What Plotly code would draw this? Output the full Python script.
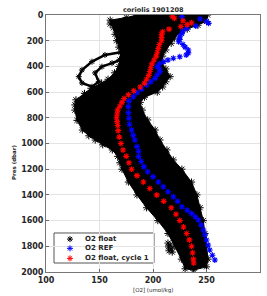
import plotly.graph_objects as go

# ---- data ----
# Envelope of the O2 float cloud (many profiles), pressure in dbar, O2 in umol/kg
env_left_p = [0, 20, 40, 70, 100, 150, 200, 250, 290, 350, 400, 450, 500, 530, 570, 610,
              660, 700, 740, 820, 895, 940, 973, 1010, 1050, 1100, 1150, 1200, 1300, 1400,
              1500, 1600, 1700, 1800, 1900, 1975]
env_left_v = [185, 175, 160, 160, 163, 164.5, 166, 168, 170, 169, 168, 164, 158, 152, 142, 136,
              128, 127, 127, 129, 134, 140, 146, 153, 162, 167, 169, 171, 177, 185,
              194, 204.5, 214, 220.5, 226.5, 230]
env_right_p = [0, 50, 80, 110, 140, 180, 220, 272, 320, 374, 420, 480, 520, 560, 600, 640,
               680, 740, 817, 895, 973, 1050, 1128, 1200, 1300, 1400, 1500, 1600, 1700, 1800,
               1900, 1960, 1985]
env_right_v = [251, 250, 242, 232, 224, 220, 217, 212, 209, 208, 212, 216, 212, 209, 204, 192,
               188, 190, 195, 202, 206.5, 213, 219, 227, 236, 241, 244, 247, 248.6, 250,
               251.5, 250, 238]

# Loop of one float profile on the left side (300-560 dbar)
loop_p = [288, 311, 363, 428, 480, 529, 558, 519, 451, 402, 374, 350, 288]
loop_v = [171, 155.1, 143, 133.6, 130.6, 133.6, 143, 149.3, 145.8, 152.3, 161.7, 169.2, 171]

# isolated float points near 1800 dbar
out_p = [1775, 1790, 1805, 1820, 1835, 1845]
out_v = [214, 216, 214.5, 217, 215, 218]

# O2 REF profile
ref_p = [13, 30, 50, 65, 85, 104, 125, 145, 170, 190, 208, 230, 250, 272, 295, 311, 325, 337,
         350, 363, 380, 402, 420, 441, 465, 493, 520, 545, 578, 605, 636, 670, 713, 760, 804,
         850, 895, 935, 973, 1024, 1060, 1102, 1140, 1180, 1220, 1258, 1300, 1336, 1375, 1414,
         1450, 1492, 1520, 1544, 1570, 1595, 1635, 1673, 1710, 1751, 1790, 1829, 1870, 1907]
ref_v = [227, 244, 250, 252, 240, 231.5, 228, 227, 225, 225, 224, 228, 230, 233, 233, 231, 225,
         219, 214, 210, 206, 204, 206, 206.5, 204, 202, 198, 194, 189.4, 185, 181.6, 177.5, 177,
         177, 177.5, 178, 180, 181.5, 183, 185, 186.5, 186.5, 189, 191.5, 195, 200, 205, 209.6,
         214, 219, 223, 227, 232, 236, 239.5, 242.4, 245, 247, 248.5, 250, 251.5, 253, 255.5,
         257.8]

# O2 float, cycle 1
c1_p = [10, 25, 45, 60, 75, 90, 110, 130, 150, 175, 200, 230, 260, 290, 320, 350, 380, 410,
        440, 470, 500, 530, 560, 590, 620, 650, 680, 710, 740, 770, 800, 830, 860, 900, 950,
        1000, 1050, 1100, 1150, 1200, 1250, 1300, 1350, 1400, 1450, 1500, 1550, 1600, 1650,
        1700, 1750, 1800, 1850, 1900, 1930]
c1_v = [218, 220, 228, 236, 232, 226, 215, 209, 208, 208, 208, 206, 205, 204, 203, 201, 199,
        198, 197, 196, 194, 192, 188, 182, 177, 173, 171, 169, 167, 166.5, 166, 166.5, 167,
        167.5, 168.5, 170, 172, 175, 177.5, 180, 185, 191, 197, 203.5, 210, 217, 221.5, 225,
        228.5, 231.5, 234, 236, 237, 237.7, 238]

series_names = ["O2 float", "O2 REF", "O2 float, cycle 1"]
series_colors = ["black", "blue", "red"]

title_text = "coriolis 1901208"
x_label = "[O2] (umol/kg)"
y_label = "Pres (dbar)"
x_ticks = [100, 150, 200, 250, 300]
y_ticks = [0, 200, 400, 600, 800, 1000, 1200, 1400, 1600, 1800, 2000]

# ---- figure ----
poly_x = env_left_v + env_right_v[::-1]
poly_y = env_left_p + env_right_p[::-1]

fig = go.Figure()
fig.add_trace(go.Scatter(x=poly_x, y=poly_y, mode="lines", fill="toself",
                         fillcolor="black", line=dict(color="black", width=1),
                         showlegend=False, hoverinfo="skip"))
fig.add_trace(go.Scatter(x=loop_v, y=loop_p, mode="lines+markers",
                         line=dict(color="black", width=2.5),
                         marker=dict(color="black", symbol="asterisk-open", size=5,
                                     line=dict(width=1, color="black")),
                         showlegend=False, hoverinfo="skip"))
fig.add_trace(go.Scatter(x=env_left_v + env_right_v + out_v,
                         y=env_left_p + env_right_p + out_p,
                         mode="markers", name=series_names[0], showlegend=False,
                         marker=dict(color="black", symbol="asterisk-open", size=6,
                                     line=dict(width=1, color="black"))))
fig.add_trace(go.Scatter(x=ref_v, y=ref_p, mode="markers", name=series_names[1],
                         showlegend=False,
                         marker=dict(color="blue", symbol="asterisk-open", size=5,
                                     line=dict(width=1.1, color="blue"))))
fig.add_trace(go.Scatter(x=c1_v, y=c1_p, mode="markers", name=series_names[2],
                         showlegend=False,
                         marker=dict(color="red", symbol="asterisk-open", size=5,
                                     line=dict(width=1.1, color="red"))))

# ---- compact legend (Matlab style) drawn on an overlay axis in [0,1] ----
leg_rows = [0.128, 0.092, 0.053]
fig.add_trace(go.Scatter(x=[0.112] * 3, y=leg_rows, xaxis="x2", yaxis="y2",
                         mode="markers", showlegend=False, hoverinfo="skip",
                         marker=dict(symbol="asterisk-open", size=5, color=series_colors,
                                     line=dict(width=1, color=series_colors))))
fig.add_shape(type="rect", xref="paper", yref="paper", x0=0.0374, x1=0.5047,
              y0=0.035, y1=0.1518, fillcolor="white", line=dict(color="#555555", width=1),
              layer="between")
for name, yy in zip(series_names, leg_rows):
    fig.add_annotation(text=name, xref="paper", yref="paper", x=0.175, y=yy,
                       xanchor="left", yanchor="middle", showarrow=False,
                       font=dict(family="DejaVu Sans", size=7, color="#262626", weight="bold"))

bold = dict(family="DejaVu Sans", size=8, color="#262626", weight="bold")

fig.add_annotation(text=title_text, xref="paper", yref="paper", x=0.5, y=1 + 5.5 / 257,
                   xanchor="center", yanchor="middle", showarrow=False,
                   font=dict(family="DejaVu Sans", size=6.5, color="#262626", weight="bold"))
fig.add_annotation(text=x_label, xref="paper", yref="paper", x=0.5, y=-18.5 / 257,
                   xanchor="center", yanchor="middle", showarrow=False,
                   font=dict(family="DejaVu Sans", size=5.5, color="#262626"))
fig.add_annotation(text=y_label, xref="paper", yref="paper", x=-32 / 214, y=(272 - 163) / 257,
                   xanchor="center", yanchor="middle", showarrow=False, textangle=-90,
                   font=dict(family="DejaVu Sans", size=5.5, color="#262626", weight="bold"))

fig.update_layout(
    width=267, height=296,
    margin=dict(l=46, r=7, t=15, b=24, autoexpand=False),
    paper_bgcolor="white", plot_bgcolor="white",
    showlegend=False,
    xaxis2=dict(overlaying="x", range=[0, 1], visible=False, fixedrange=True),
    yaxis2=dict(overlaying="y", range=[0, 1], visible=False, fixedrange=True),
)
fig.update_layout(
    xaxis=dict(range=[100, 300], tickvals=x_ticks, ticks="inside", ticklen=3,
               tickcolor="#666666", showline=True, linecolor="#777777", linewidth=1,
               mirror=True, showgrid=True, gridcolor="#e3e3e3", gridwidth=1,
               zeroline=False, tickfont=bold, automargin=False),
    yaxis=dict(range=[2000, 0], tickvals=y_ticks, ticks="inside", ticklen=3,
               tickcolor="#666666", showline=True, linecolor="#777777", linewidth=1,
               mirror=True, showgrid=True, gridcolor="#e3e3e3", gridwidth=1,
               zeroline=False, tickfont=bold, automargin=False),
)

fig.write_html("out.html", config={"displayModeBar": False, "staticPlot": True},
               post_script="document.body.style.margin='0';document.body.style.overflow='hidden';")
